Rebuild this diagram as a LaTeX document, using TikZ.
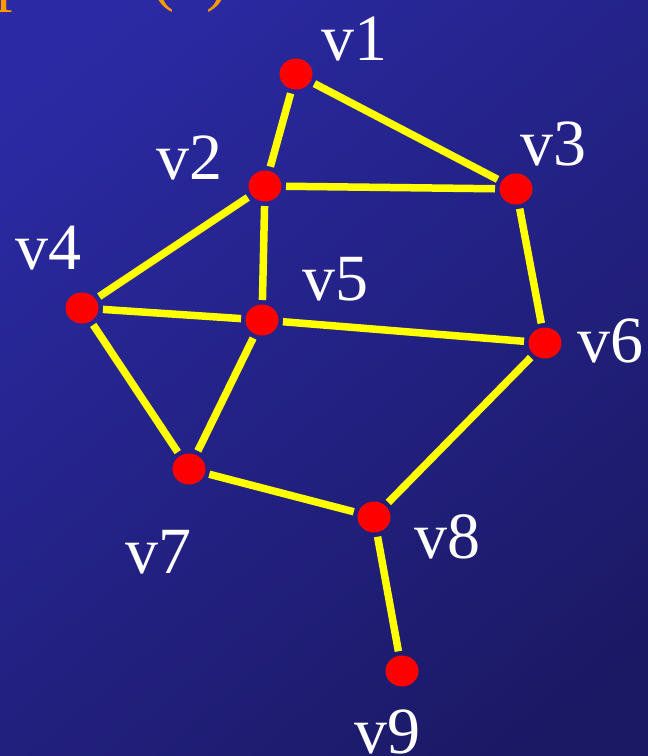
\documentclass[tikz,border=0pt]{standalone}
\usepackage{fontspec}
\setmainfont{Liberation Serif}
\usetikzlibrary{shapes.geometric}
\definecolor{bgA}{HTML}{2B2AA4}
\definecolor{bgB}{HTML}{1B1964}
\definecolor{edgeY}{HTML}{FFFF00}
\definecolor{dotR}{HTML}{FF0000}
\definecolor{titleO}{HTML}{FF9900}
\tikzset{
  vdot/.style={ellipse, fill=dotR, draw=none, minimum width=33pt, minimum height=31pt, inner sep=0pt, outer sep=4.5pt},
  vlabel/.style={text=white, font=\fontsize{66}{66}\selectfont, inner sep=0pt, anchor=base west},
  gedge/.style={draw=edgeY, line width=7.5pt},
  titletext/.style={text=titleO, font=\fontsize{66}{66}\selectfont, inner sep=0pt, anchor=base west}
}
\begin{document}
\begin{tikzpicture}[x=1pt,y=-1pt]
\useasboundingbox (0,0) rectangle (648,756);
\shade[top color=bgA, bottom color=bgB, shading angle=40] (-60,-60) rectangle (708,816);
\clip (0,0) rectangle (648,756);
% cropped title pieces
\node[titletext] (tp) at (-4,-2) {p};
\node[titletext] (tl) at (152,-2) {(};
\node[titletext] (tr) at (206,-2) {)};
% vertices
\node[vdot] (v1) at (296,74) {};
\node[vdot] (v2) at (265,186) {};
\node[vdot] (v3) at (516,189) {};
\node[vdot] (v4) at (82,308) {};
\node[vdot] (v5) at (262,320) {};
\node[vdot] (v6) at (545,343) {};
\node[vdot] (v7) at (189,469) {};
\node[vdot] (v8) at (374,517) {};
\node[vdot] (v9) at (402,671) {};
% labels
\node[vlabel] (l1) at (321,60) {v1};
\node[vlabel] (l2) at (156,179) {v2};
\node[vlabel] (l3) at (520,165) {v3};
\node[vlabel] (l4) at (15,269) {v4};
\node[vlabel] (l5) at (302,300) {v5};
\node[vlabel] (l6) at (577,362) {v6};
\node[vlabel] (l7) at (125,573) {v7};
\node[vlabel] (l8) at (414,558) {v8};
\node[vlabel] (l9) at (354,753) {v9};
% edges
\draw[gedge] (v1) -- (v2);
\draw[gedge] (v1) -- (v3);
\draw[gedge] (v2) -- (v3);
\draw[gedge] (v2) -- (v4);
\draw[gedge] (v2) -- (v5);
\draw[gedge] (v4) -- (v5);
\draw[gedge] (v5) -- (v6);
\draw[gedge] (v3) -- (v6);
\draw[gedge] (v4) -- (v7);
\draw[gedge] (v5) -- (v7);
\draw[gedge] (v7) -- (v8);
\draw[gedge] (v6) -- (v8);
\draw[gedge] (v8) -- (v9);
\end{tikzpicture}
\end{document}
